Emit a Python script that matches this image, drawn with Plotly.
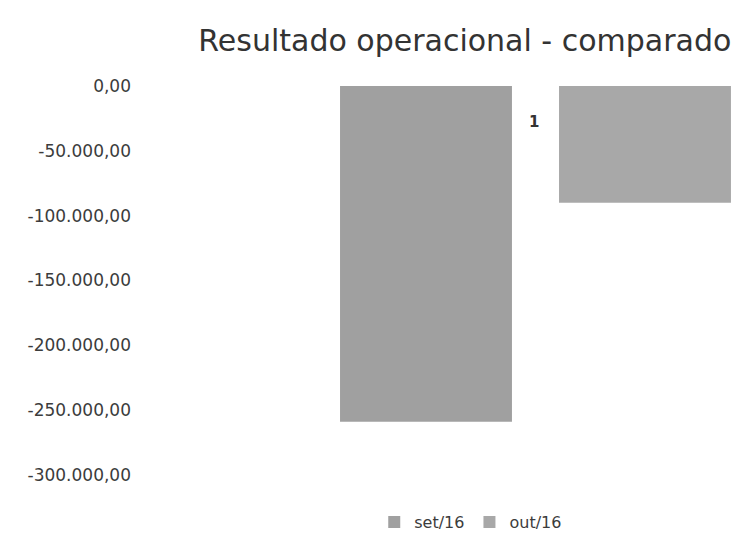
import plotly.graph_objects as go

# Operating result per month (R$)
category = ["Resultado"]
series_names = ["set/16", "out/16"]
series_values = [[-259000], [-90000]]
series_colors = ["#a0a0a0", "#a8a8a8"]

tick_values = [0, -50000, -100000, -150000, -200000, -250000, -300000]
tick_labels = ["0,00", "-50.000,00", "-100.000,00", "-150.000,00",
               "-200.000,00", "-250.000,00", "-300.000,00"]

fig = go.Figure()
for name, vals, col in zip(series_names, series_values, series_colors):
    fig.add_trace(go.Bar(
        name=name, x=[0], y=vals,
        marker=dict(color=col, line=dict(width=0)),
    ))

fig.update_layout(
    width=739, height=535,
    margin=dict(l=138, r=0, t=80, b=55),
    paper_bgcolor="white", plot_bgcolor="white",
    barmode="group", bargap=0.2, bargroupgap=0.215,
    font=dict(family="DejaVu Sans", color="#3c3c3c"),
    title=dict(text="Resultado operacional - comparado",
               x=0.629, xanchor="center", y=0.925, yanchor="middle",
               font=dict(size=30, color="#333333")),
    xaxis=dict(range=[-0.726, 0.3717], showticklabels=False,
               showgrid=False, zeroline=False, showline=False),
    yaxis=dict(range=[-303850, 4630], tickvals=tick_values, ticktext=tick_labels,
               showgrid=False, zeroline=False, showline=False,
               ticklabelstandoff=6,
               tickfont=dict(size=17, color="#3c3c3c")),
    legend=dict(orientation="h", xref="container", yref="container",
                x=0.637, xanchor="center", y=0.024, yanchor="middle",
                font=dict(size=16, color="#3c3c3c"),
                itemwidth=30, traceorder="normal"),
    annotations=[dict(text="<b>1</b>", xref="paper", yref="paper",
                      x=0.659, y=0.895, xanchor="center", yanchor="middle",
                      showarrow=False,
                      font=dict(size=15, color="#333333"))],
)

fig.write_html("out.html")
